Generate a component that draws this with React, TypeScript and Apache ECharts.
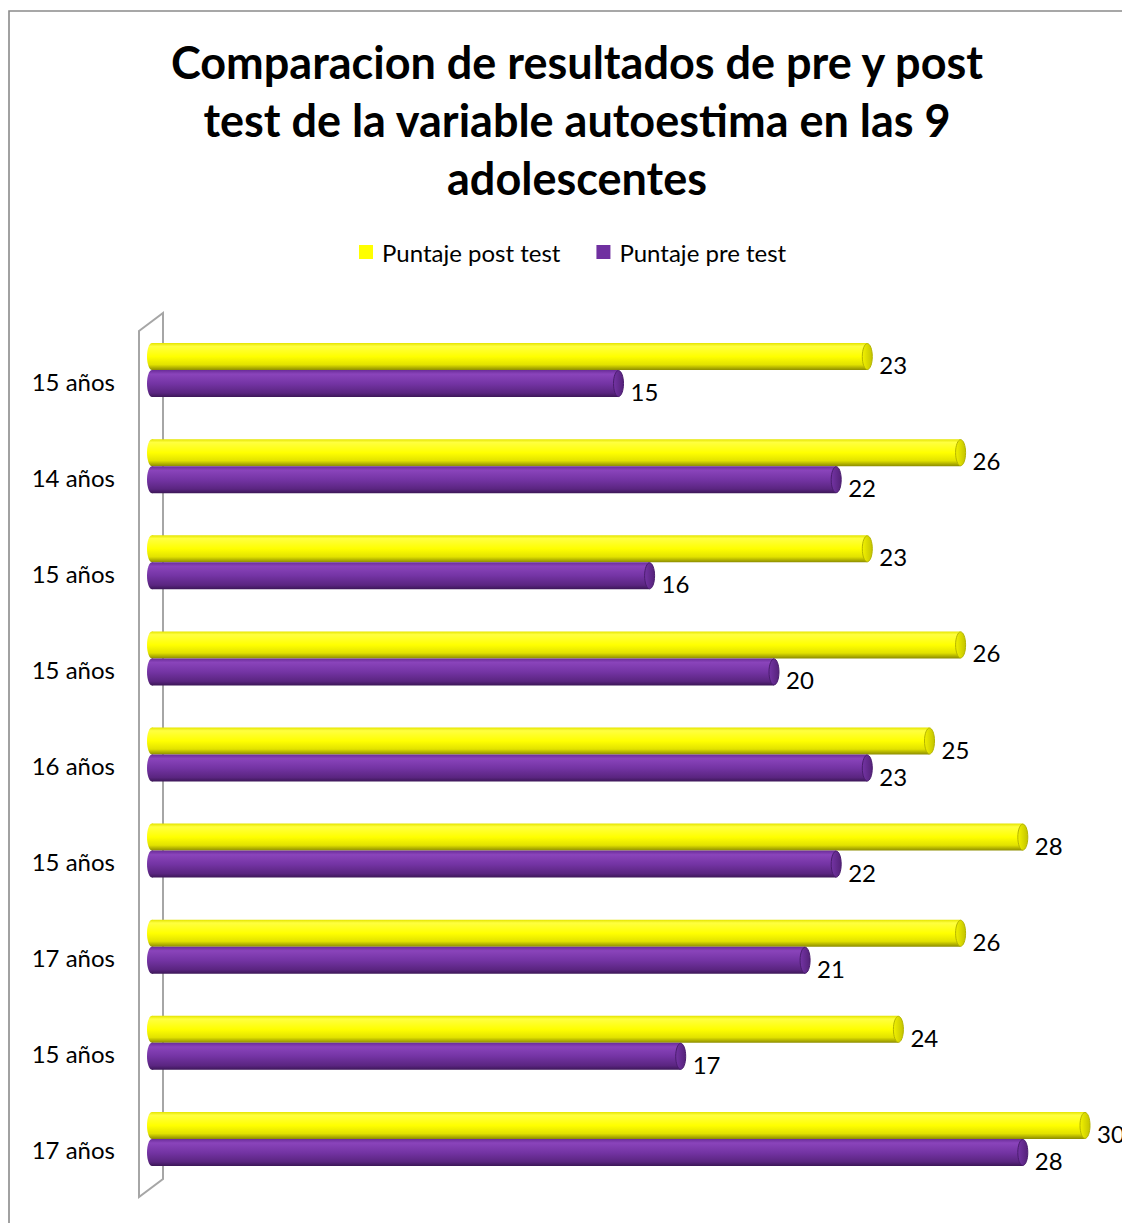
import React, { useEffect, useRef } from "react";
import * as echarts from "echarts";

// Participants (age labels) from top to bottom
const categories = [
  "15 años",
  "14 años",
  "15 años",
  "15 años",
  "16 años",
  "15 años",
  "17 años",
  "15 años",
  "17 años",
];

// Self-esteem scores
const postTest = [23, 26, 23, 26, 25, 28, 26, 24, 30];
const preTest = [15, 22, 16, 20, 23, 22, 21, 17, 28];

const seriesNames = ["Puntaje post test", "Puntaje pre test"];

const FONT = "Lato, 'Noto Sans', sans-serif";
const BAR_H = 27;

type Palette = {
  base: string;
  stops: { offset: number; color: string }[];
  capStops: { offset: number; color: string }[];
  capStroke: string;
};

const palettes: Palette[] = [
  {
    base: "#FFFF00",
    stops: [
      { offset: 0, color: "#e4e400" },
      { offset: 0.12, color: "#ffff40" },
      { offset: 0.5, color: "#ffff00" },
      { offset: 0.8, color: "#e2e200" },
      { offset: 1, color: "#8c8c00" },
    ],
    capStops: [
      { offset: 0, color: "#f2f200" },
      { offset: 1, color: "#c4c400" },
    ],
    capStroke: "#b4b400",
  },
  {
    base: "#7030A0",
    stops: [
      { offset: 0, color: "#6a2d99" },
      { offset: 0.15, color: "#8a44bb" },
      { offset: 0.5, color: "#7434a4" },
      { offset: 0.85, color: "#5a2580" },
      { offset: 1, color: "#3c1757" },
    ],
    capStops: [
      { offset: 0, color: "#7434a4" },
      { offset: 1, color: "#55227a" },
    ],
    capStroke: "#4a1d6e",
  },
];

// Cylinder-like horizontal bar: gradient body, rounded back end, elliptical front cap, value label
function cylinderRenderer(seriesIdx: number) {
  const pal = palettes[seriesIdx];
  return (params: any, api: any) => {
    const cat = api.value(0);
    const val = api.value(1);
    const start = api.coord([0, cat]);
    const end = api.coord([val, cat]);
    const cy = start[1];
    const y0 = seriesIdx === 0 ? cy - BAR_H : cy;
    const grad = () => new echarts.graphic.LinearGradient(0, 0, 0, 1, pal.stops);
    const rx = 5;
    return {
      type: "group",
      children: [
        {
          type: "ellipse",
          shape: { cx: start[0], cy: y0 + BAR_H / 2, rx, ry: BAR_H / 2 },
          style: { fill: grad() },
        },
        {
          type: "rect",
          shape: { x: start[0], y: y0, width: end[0] - start[0], height: BAR_H },
          style: { fill: grad() },
        },
        {
          type: "ellipse",
          shape: { cx: end[0], cy: y0 + BAR_H / 2, rx, ry: BAR_H / 2 - 0.5 },
          style: {
            fill: new echarts.graphic.LinearGradient(0, 0, 1, 0, pal.capStops),
            stroke: pal.capStroke,
            lineWidth: 1,
          },
        },
        {
          type: "text",
          x: end[0] + 12,
          y: y0 + BAR_H / 2 + 8,
          style: {
            text: String(val),
            fill: "#000",
            font: `24px ${FONT}`,
            textAlign: "left",
            textVerticalAlign: "middle",
          },
        },
      ],
    };
  };
}

export default function App() {
  const ref = useRef<HTMLDivElement>(null);

  useEffect(() => {
    document.body.style.margin = "0";
    const chart = echarts.init(ref.current!, undefined, { renderer: "svg" });
    const gridLeft = 152;
    const unit = 31.1; // pixels per score point
    const xMax = (1122 - gridLeft) / unit;

    chart.setOption({
      animation: false,
      backgroundColor: "#ffffff",
      title: {
        text: "Comparacion de resultados de pre y post\ntest de la variable autoestima en las 9\nadolescentes",
        left: 572,
        top: 28,
        textAlign: "center",
        textStyle: {
          fontFamily: FONT,
          fontWeight: "bold",
          fontSize: 45,
          lineHeight: 58,
          color: "#000",
        },
      },
      legend: {
        left: 354,
        top: 235,
        icon: "rect",
        itemWidth: 14,
        itemHeight: 14,
        itemGap: 36,
        data: seriesNames,
        textStyle: { fontFamily: FONT, fontSize: 24, color: "#000", padding: [0, 0, 0, 4] },
      },
      graphic: [
        {
          type: "rect",
          z: -10,
          shape: { x: 9, y: 11, width: 1400, height: 1400 },
          style: { fill: "none", stroke: "#8a8a8a", lineWidth: 1.6 },
        },
        {
          type: "polygon",
          z: -10,
          shape: {
            points: [
              [139, 331],
              [163, 313],
              [163, 1179],
              [139, 1197],
            ],
          },
          style: { fill: "none", stroke: "#a6a6a6", lineWidth: 2 },
        },
      ],
      grid: {
        left: gridLeft,
        top: 322,
        right: 0,
        height: 865,
      },
      xAxis: {
        type: "value",
        min: 0,
        max: xMax,
        show: false,
      },
      yAxis: {
        type: "category",
        data: categories,
        inverse: true,
        axisLine: { show: false },
        axisTick: { show: false },
        splitLine: { show: false },
        axisLabel: {
          margin: 37,
          fontFamily: FONT,
          fontSize: 24,
          color: "#000",
          verticalAlign: "top",
          lineHeight: 22,
        },
      },
      series: [postTest, preTest].map((vals, si) => ({
        type: "custom",
        name: seriesNames[si],
        itemStyle: { color: palettes[si].base },
        encode: { x: 1, y: 0 },
        data: vals.map((v, i) => [i, v]),
        renderItem: cylinderRenderer(si),
      })),
    });

    return () => chart.dispose();
  }, []);

  return <div ref={ref} style={{ width: 1122, height: 1223 }} />;
}
